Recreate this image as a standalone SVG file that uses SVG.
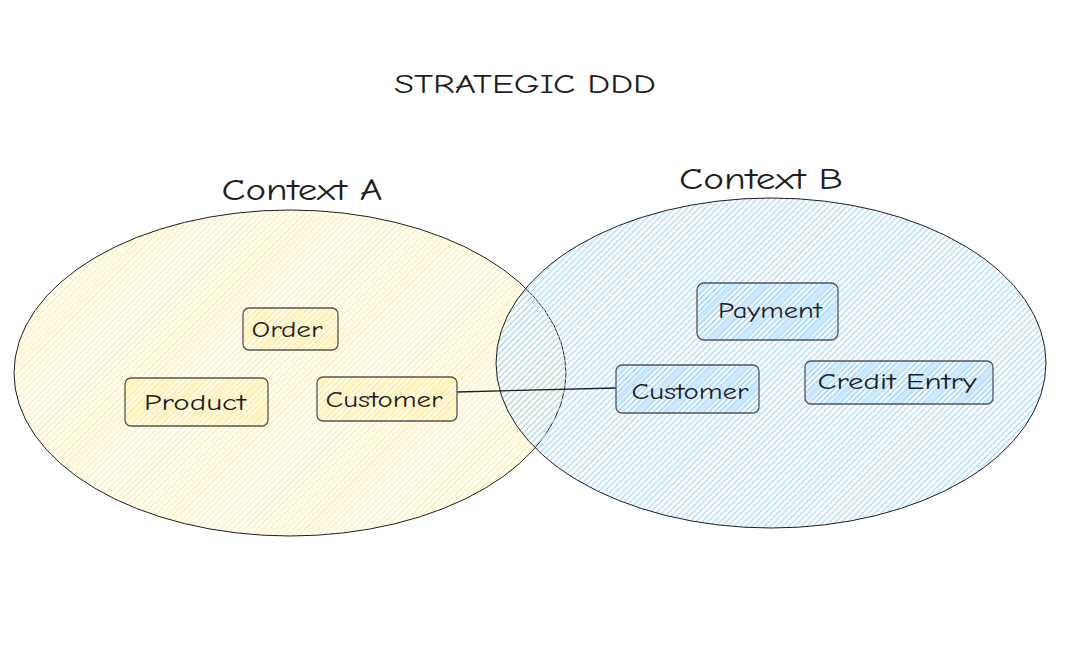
<svg xmlns="http://www.w3.org/2000/svg" width="1070" height="663" viewBox="0 0 1070 663">
<defs>
<pattern id="hy" patternUnits="userSpaceOnUse" width="4.3" height="10" patternTransform="rotate(45)"><line x1="1" y1="0" x2="1" y2="10" stroke="#ffec99" stroke-width="1.2"/></pattern>
<pattern id="hb" patternUnits="userSpaceOnUse" width="4.3" height="10" patternTransform="rotate(45)"><line x1="1" y1="0" x2="1" y2="10" stroke="#a5d8ff" stroke-width="1.2"/></pattern>
<pattern id="hyd" patternUnits="userSpaceOnUse" width="3.6" height="10" patternTransform="rotate(45)"><line x1="1" y1="0" x2="1" y2="10" stroke="#ffec99" stroke-width="1.2"/></pattern>
<pattern id="hbd" patternUnits="userSpaceOnUse" width="3.6" height="10" patternTransform="rotate(45)"><line x1="1" y1="0" x2="1" y2="10" stroke="#a5d8ff" stroke-width="1.2"/></pattern>
</defs>
<style>
text{font-family:"Comic Neue","Open Sans","Liberation Sans",sans-serif;fill:#1e1e1e;text-anchor:middle}
.t{font-size:26px}
.h{font-size:31px}
.l{font-size:23px}
.ell{stroke:#1e1e1e;stroke-width:1}
.box{stroke:#555;stroke-width:1.3}
.bya{fill:url(#hyd)}
.bbl{fill:url(#hbd)}
</style>
<rect width="1070" height="663" fill="#fff"/>
<g id="title"><text class="t" x="525" y="93" textLength="262" lengthAdjust="spacingAndGlyphs">STRATEGIC DDD</text></g>
<g id="contextA">
<ellipse class="ell" cx="290" cy="373" rx="276" ry="163" fill="url(#hy)"/>
<text class="h" x="302" y="200" textLength="161" lengthAdjust="spacingAndGlyphs">Context A</text>
</g>
<g id="contextB">
<ellipse class="ell" cx="771" cy="363" rx="275" ry="165" fill="url(#hb)"/>
<text class="h" x="761" y="189" textLength="164" lengthAdjust="spacingAndGlyphs">Context B</text>
</g>
<g id="connectors">
<line x1="457" y1="392" x2="616" y2="388" stroke="#1e1e1e" stroke-width="1.3"/>
</g>
<g id="order"><rect class="box bya" x="243" y="308" width="95" height="42" rx="6"/><text class="l" x="287" y="337" textLength="71" lengthAdjust="spacingAndGlyphs">Order</text></g>
<g id="product"><rect class="box bya" x="125" y="378" width="143" height="48" rx="6"/><text class="l" x="195" y="410" textLength="102" lengthAdjust="spacingAndGlyphs">Product</text></g>
<g id="customerA"><rect class="box bya" x="317" y="377" width="140" height="44" rx="6"/><text class="l" x="384" y="407" textLength="117" lengthAdjust="spacingAndGlyphs">Customer</text></g>
<g id="payment"><rect class="box bbl" x="697" y="283" width="141" height="57" rx="7"/><text class="l" x="770" y="318" textLength="104" lengthAdjust="spacingAndGlyphs">Payment</text></g>
<g id="customerB"><rect class="box bbl" x="616" y="365" width="143" height="48" rx="6"/><text class="l" x="690" y="399" textLength="117" lengthAdjust="spacingAndGlyphs">Customer</text></g>
<g id="creditEntry"><rect class="box bbl" x="805" y="361" width="188" height="43" rx="6"/><text class="l" x="897" y="389" textLength="159" lengthAdjust="spacingAndGlyphs">Credit Entry</text></g>
</svg>
